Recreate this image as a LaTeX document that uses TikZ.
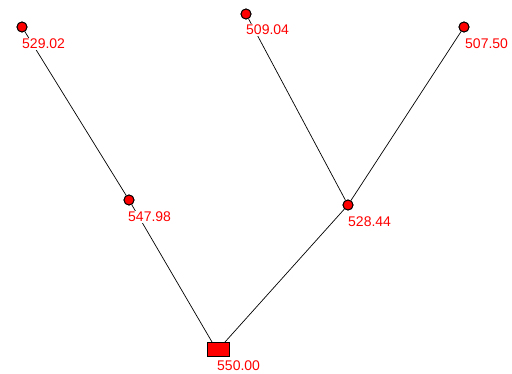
\documentclass[tikz,border=0pt]{standalone}
\usepackage{fontspec}
\setmainfont{Liberation Sans}
\begin{document}
\begin{tikzpicture}[x=1pt,y=-1pt,
  junc/.style={circle,draw=black,fill=red,line width=0.9pt,minimum size=10pt,inner sep=0pt},
  tank/.style={rectangle,draw=black,fill=red,line width=0.9pt,minimum width=22pt,minimum height=14pt,inner sep=0pt},
  lbl/.style={anchor=west,fill=white,text=red,inner sep=1pt,font=\fontsize{14}{16}\selectfont},
  pipe/.style={draw=black,line width=0.7pt}]
\useasboundingbox (0,0) rectangle (512,373);
\fill[white] (0,0) rectangle (512,373);
% nodes
\node[junc] (a) at (22,27) {};
\node[junc] (b) at (129,200) {};
\node[junc] (c) at (246,14) {};
\node[junc] (d) at (464,27) {};
\node[junc] (e) at (348,205) {};
\node[tank] (t) at (218,349) {};
\coordinate (tl) at (212,342);
\coordinate (tr) at (225,342);
% pipes
\draw[pipe] (a) -- (b);
\draw[pipe] (b) -- (tl);
\draw[pipe] (c) -- (e);
\draw[pipe] (d) -- (e);
\draw[pipe] (e) -- (tr);
\node[junc] at (a) {};
\node[junc] at (b) {};
\node[junc] at (c) {};
\node[junc] at (d) {};
\node[junc] at (e) {};
% labels
\node[lbl] (la) at (21,44) {529.02};
\node[lbl] (lb) at (127,217) {547.98};
\node[lbl] (lc) at (245,30) {509.04};
\node[lbl] (ld) at (464,44) {507.50};
\node[lbl] (le) at (347,222) {528.44};
\node[lbl] (lt) at (216,366) {550.00};
\end{tikzpicture}
\end{document}
